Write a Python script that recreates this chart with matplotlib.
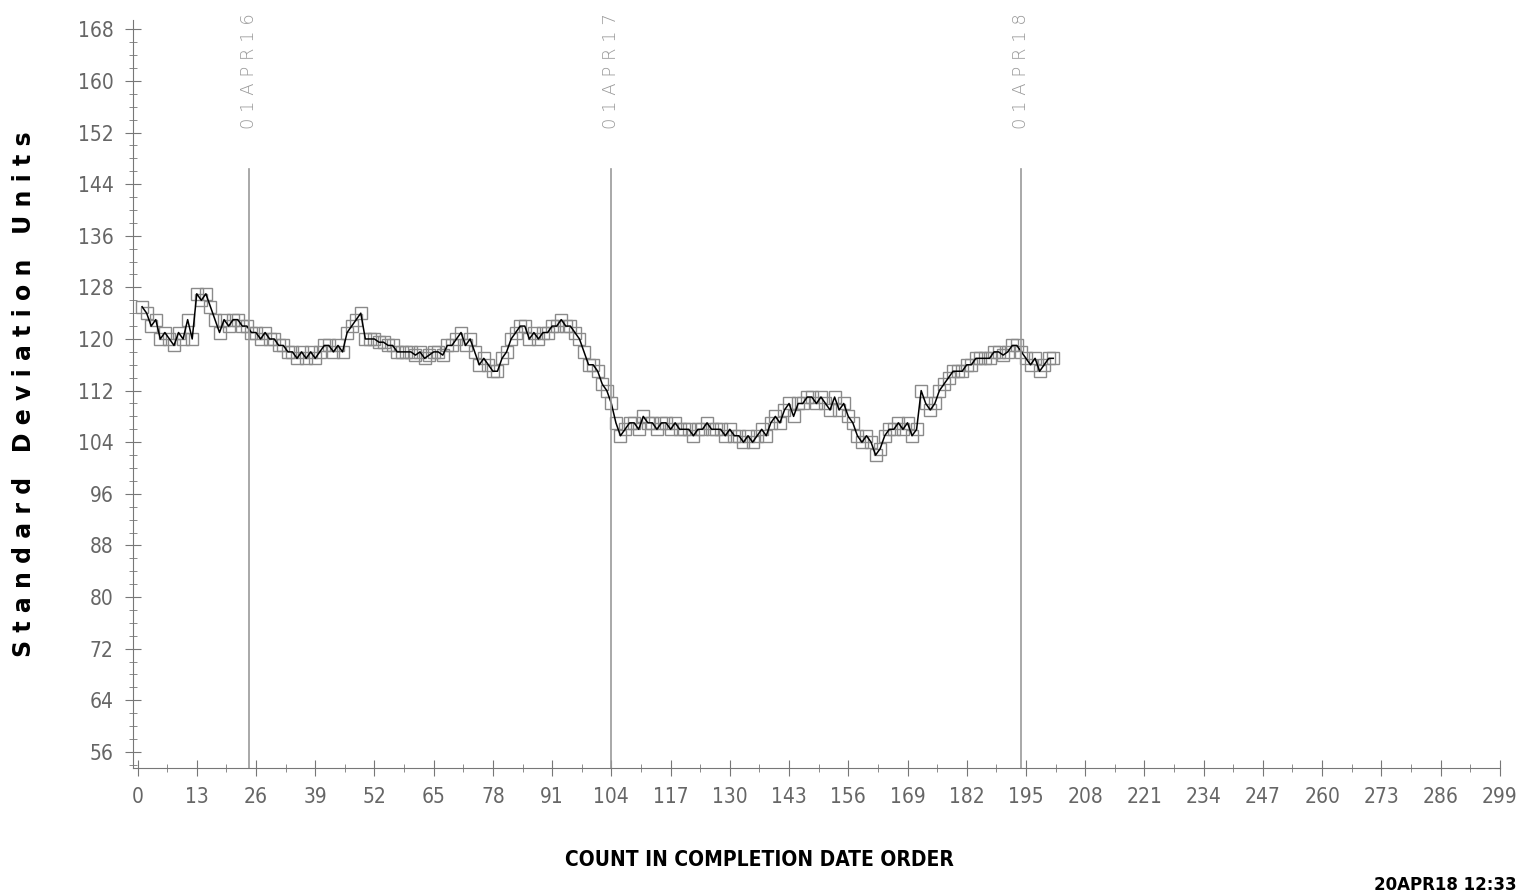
import numpy as np
import matplotlib.pyplot as plt
from matplotlib.ticker import MultipleLocator

# standard deviation values, one per completion count 1..201
sd_vals = [125,124,122,123,120,121,120,119,121,120,123,120,
           127,126,127,125,123,121,123,122,
           123,123,122,122,121,121,120,121,120,120,
           119,119,118,118,117,118,117,118,117,118,
           119,119,118,119,118,121,122,123,124,120,
           120,120,119.5,119.5,119,119,118,118,118,118,
           117.5,118,117,117.5,118,118,117.5,119,119,120,
           121,119,120,118,116,117,116,115,115,117,
           118,120,121,122,122,120,121,120,121,121,
           122,122,123,122,122,121,120,118,116,116,
           115,113,112,110,107,105,106,
           107,107,106,108,107,107,106,107,107,106,107,106,106,
           106,105,106,106,107,106,106,106,105,106,105,105,104,105,104,
           105,106,105,107,108,107,109,110,108,110,
           110,111,111,110,111,110,109,111,109,110,
           108,107,105,104,105,104,102,103,105,106,
           106,107,106,107,105,106,112,110,109,110,
           112,113,114,115,115,115,116,116,117,117,
           117,117,118,118,117.5,118,119,119,118,117,
           116,117,115,116,117,117]
count = np.arange(1, len(sd_vals) + 1)

ref_x = [24.5, 104, 194]
ref_lab = ['0 1 A P R 1 6', '0 1 A P R 1 7', '0 1 A P R 1 8']

fig = plt.figure(figsize=(15.18, 8.93), dpi=100)
ax = fig.add_axes([0.0876, 0.14, 0.9004, 0.838])

ax.plot(count, sd_vals, ls='none', marker='s', ms=8.5, mfc='none', mec='#8a8a8a', mew=1)
ax.plot(count, sd_vals, color='black', lw=1.1)

for xv, lab in zip(ref_x, ref_lab):
    ax.axvline(xv, ymin=0, ymax=0.80, color='#999999', lw=1.2)
    ax.text(xv, 170.5, lab, rotation=90, ha='center', va='top', color='#999999',
            fontsize=13, family='DejaVu Sans', fontweight='light')

ax.set_xlim(-1, 299)
ax.set_ylim(53.5, 169.5)
ax.xaxis.set_major_locator(MultipleLocator(13))
ax.xaxis.set_minor_locator(MultipleLocator(6.5))
ax.yaxis.set_major_locator(MultipleLocator(8))
ax.yaxis.set_minor_locator(MultipleLocator(2))
for s in ['top', 'right']:
    ax.spines[s].set_visible(False)
for s in ['left', 'bottom']:
    ax.spines[s].set_color('#777777')
ax.tick_params(which='both', direction='inout', colors='#777777', labelcolor='#666666')
ax.tick_params(which='major', length=12, labelsize=15, pad=8)
ax.tick_params(which='minor', length=6)
for t in ax.get_xticklabels() + ax.get_yticklabels():
    t.set_stretch('condensed')
    t.set_fontweight('light')

ax.set_ylabel('S t a n d a r d   D e v i a t i o n   U n i t s', fontsize=17,
              fontweight='bold', labelpad=30)
fig.text(0.5, 0.03, 'COUNT IN COMPLETION DATE ORDER', ha='center', fontsize=15,
         fontweight='bold', stretch='condensed')
fig.text(0.905, 0.003, '20APR18 12:33', fontsize=12, fontweight='bold')

fig.savefig('out.png', dpi=100)
